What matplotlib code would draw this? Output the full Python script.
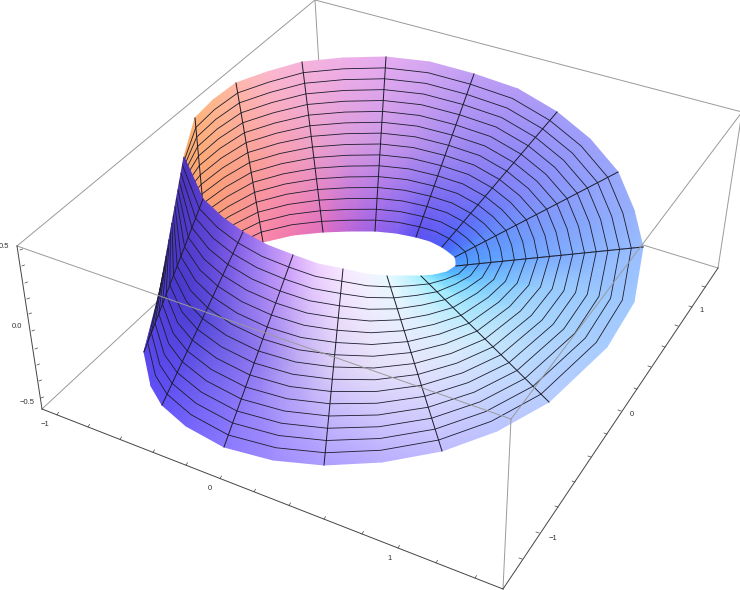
import numpy as np
import matplotlib
matplotlib.use('Agg')
import matplotlib.pyplot as plt

# everything is read off the picture, in picture pixels
# back part of the strip, from the right side over the top to the fold on the left
back_outer_x = [643, 634, 618, 590, 557, 518, 474, 430, 386, 343, 302, 267, 236, 213, 195, 184]
back_outer_y = [247, 210, 172, 139, 112, 89, 74, 62, 57, 58, 62, 72, 83, 100, 118, 157]
back_inner_x = [456, 456, 455, 449, 442, 430, 416, 396, 375, 349, 323, 293, 263, 235, 209, 160]
back_inner_y = [266, 261, 257, 252, 247, 241, 237, 233, 231, 231, 232, 235, 242, 255, 270, 290]
back_ruled = [1, 0, 1, 0, 1, 0, 1, 0, 1, 0, 1, 0, 1, 0, 1, 0]
back_col_outer = ['#9bbeff', '#98b0fc', '#9aa8fb', '#9ea0fa', '#a59cf9', '#b49cf6', '#c09ef5', '#d4a8f2',
                  '#e6acf0', '#f0b0e8', '#f6b4dc', '#fcb8cc', '#ffb8a8', '#ffb890', '#ffb47c', '#f9a860']
back_col_mid = ['#7cabff', '#7a9ffb', '#7e95fa', '#8088f8', '#8480f6', '#9080f2', '#a088f0', '#b890ec',
                '#cc98e8', '#dc9cdc', '#eea0c8', '#f8a0b0', '#fba090', '#fca080', '#fba072', '#e89860']
back_col_inner = ['#4f9fff', '#4a96ff', '#4b8cff', '#4770fb', '#4a60f8', '#5a58f5', '#5c50f0', '#8060f0',
                  '#9a62e8', '#bc66d8', '#e070c0', '#f07ab0', '#f888a8', '#f89088', '#f39464', '#b07040']

# front part, from the fold round to the same right side
front_top_x = [184, 203, 222, 243, 267, 293, 318, 343, 366, 387, 405, 421, 434, 447, 456]
front_top_y = [157, 199, 217, 232, 245, 255, 264, 269, 274, 276, 276, 276, 275, 272, 266]
front_low_x = [160, 144, 151, 162, 186, 224, 273, 324, 382, 442, 497, 549, 607, 634, 643]
front_low_y = [290, 352, 386, 405, 426, 447, 460, 465, 462, 451, 431, 402, 347, 302, 247]
front_ruled = [0, 1, 0, 1, 0, 1, 0, 1, 0, 1, 0, 1, 0, 0, 1]
front_col_top = ['#4a32b8', '#5a3fd0', '#6a4cd8', '#8e64ea', '#b088f4', '#d8a8fc', '#f0d0ff', '#f8e8ff',
                 '#f4f2ff', '#e8faff', '#c8f4ff', '#a0f0ff', '#70d8ff', '#50b8ff', '#4f9fff']
front_col_mid = ['#4a38c0', '#4a38cc', '#4c3cd0', '#5446d8', '#7060e4', '#9078ee', '#bcaaf4', '#dcd0f8',
                 '#e6e0fa', '#e6e6fc', '#dceafc', '#c8eafc', '#a8d8fc', '#98ccfd', '#7cabff']
front_col_low = ['#4c38d0', '#5c48ec', '#5f4ef4', '#6454f8', '#7464fa', '#8a78ff', '#a08cff', '#ae9eff',
                 '#baaeff', '#c2bcff', '#bcc4ff', '#b8ccff', '#a8ccff', '#a0c8ff', '#9bbeff']

# box corners
corner_a = (17, 246)
corner_b = (42, 409)
corner_c = (503, 589)
corner_d = (718, 268)
corner_e = (742, 112)
corner_f = (315, 0)
corner_g = (324, 147)
corner_h = (511, 419)

# ticks
x_ticks_x = [57, 88, 120, 153, 186, 220, 254, 289, 324, 362, 398, 436, 475]
y_ticks_x = [522, 539, 558, 575, 591, 607, 621, 637, 651, 665, 678, 692, 705]
y_ticks_y = [559, 533, 507, 482, 457, 434, 411, 389, 367, 347, 326, 307, 287]
z_ticks_x = [20, 22, 25, 27, 29, 32, 35, 37, 39, 41]
z_ticks_y = [250, 266, 283, 299, 314, 331, 349, 365, 381, 398]

labels = ['0.5', '0.0', '\u22120.5', '\u22121', '0', '1', '\u22121', '0', '1']
label_x = [4, 17, 27, 45, 210, 390, 553, 632, 702]
label_y = [246, 326, 402, 424, 489, 559, 538, 415, 311]


def draw_strip(ax, ax_, ay_, bx_, by_, ca, cm, cb, ruled, z):
    ax_, ay_, bx_, by_ = map(np.array, (ax_, ay_, bx_, by_))
    # three nodes on every row, colour is filled in between by gouraud shading
    X = np.column_stack([ax_, (ax_ + bx_) / 2, bx_])
    Y = np.column_stack([ay_, (ay_ + by_) / 2, by_])
    C = np.array([[matplotlib.colors.to_rgb(c) for c in row] for row in zip(ca, cm, cb)])
    ax.pcolormesh(X, Y, C, shading='gouraud', zorder=z)

    line_col = '#1c1c2c'
    # lines along the strip, 15 of them at equal steps over the width
    for f in np.arange(1, 16) / 16:
        ax.plot(ax_ + (bx_ - ax_) * f, ay_ + (by_ - ay_) * f, color=line_col, lw=0.6, zorder=z + 0.5)
    # lines across
    for i, r in enumerate(ruled):
        if r:
            ax.plot([ax_[i], bx_[i]], [ay_[i], by_[i]], color=line_col, lw=0.7, zorder=z + 0.5)


def seg(ax, p, q, color, z):
    ax.plot([p[0], q[0]], [p[1], q[1]], color=color, lw=0.7, zorder=z)


fig = plt.figure(figsize=(7.4, 5.9), dpi=100)
ax = fig.add_axes([0, 0, 1, 1])
ax.set_xlim(0, 740)
ax.set_ylim(590, 0)
ax.axis('off')

grey = '#9a9a9a'
dark = '#444444'

# box edges behind the surface
seg(ax, corner_a, corner_f, grey, 1)
seg(ax, corner_f, corner_e, grey, 1)
seg(ax, corner_f, corner_g, grey, 1)
seg(ax, corner_b, corner_g, grey, 1)
seg(ax, corner_d, corner_g, grey, 1)
seg(ax, corner_d, corner_e, grey, 1)

draw_strip(ax, back_outer_x, back_outer_y, back_inner_x, back_inner_y,
           back_col_outer, back_col_mid, back_col_inner, back_ruled, 2)
# the front is simply painted over the back
draw_strip(ax, front_top_x, front_top_y, front_low_x, front_low_y,
           front_col_top, front_col_mid, front_col_low, front_ruled, 3)

# box edges in front of it
seg(ax, corner_a, corner_h, grey, 6)
seg(ax, corner_h, corner_e, grey, 6)
seg(ax, corner_h, corner_c, grey, 6)

# the three axes
seg(ax, corner_a, corner_b, dark, 6)
seg(ax, corner_b, corner_c, dark, 6)
seg(ax, corner_c, corner_d, dark, 6)

# tick marks
for x, y in zip(x_ticks_x, np.interp(x_ticks_x, [corner_b[0], corner_c[0]], [corner_b[1], corner_c[1]])):
    ax.plot([x, x + 1.5], [y, y - 2.5], color=dark, lw=0.5, zorder=6)
for x, y in zip(y_ticks_x, y_ticks_y):
    ax.plot([x, x - 3], [y, y - 1], color=dark, lw=0.5, zorder=6)
for x, y in zip(z_ticks_x, z_ticks_y):
    ax.plot([x, x + 2.5], [y, y - 1], color=dark, lw=0.5, zorder=6)

for s, x, y in zip(labels, label_x, label_y):
    ax.text(x, y, s, fontsize=5.5, color='#333333', ha='center', va='center',
            family='Liberation Sans', zorder=7)

fig.savefig('out.png', dpi=100, facecolor='white')
